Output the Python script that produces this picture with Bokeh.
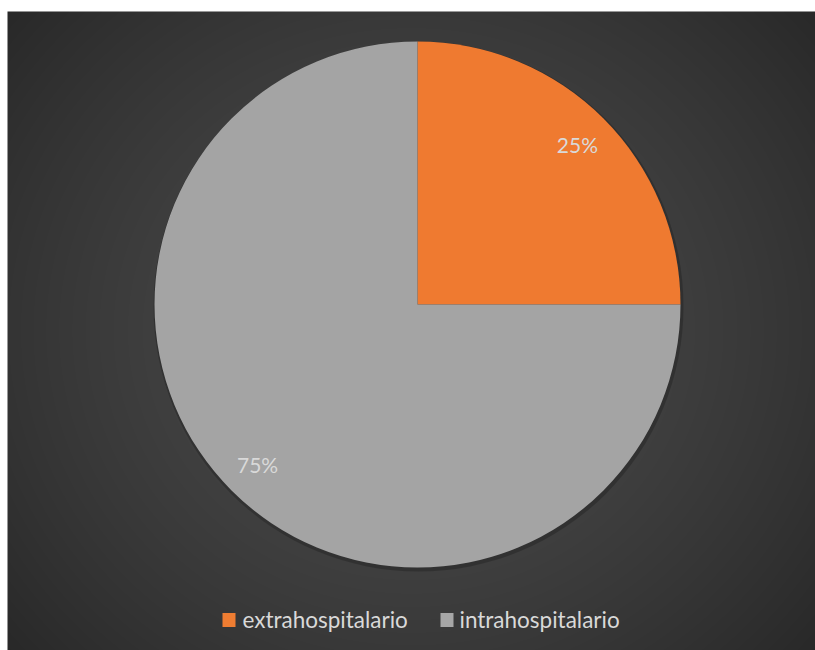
import numpy as np
from bokeh.plotting import figure
from bokeh.models import Range1d, ColumnDataSource
from bokeh.core.properties import value
from bokeh.embed import file_html
from bokeh.resources import INLINE

# ---- data ----
categories = ["extrahospitalario", "intrahospitalario"]
values = [25, 75]
colors = ["#ef7a30", "#a4a4a4"]
legend_colors = ["#ef7d32", "#a6a6a6"]

W, H = 815, 650
FONT = "Lato"

def py(y_px):
    return H - y_px

p = figure(width=W, height=H, x_range=Range1d(0, W), y_range=Range1d(0, H),
           output_backend="svg", toolbar_location=None, min_border=0,
           x_axis_type=None, y_axis_type=None,
           background_fill_color="white", border_fill_color="white",
           outline_line_color=None)
p.grid.visible = False

# ---- chart area background (radial gradient) ----
x0, x1, ytop, ybot = 7, 815, 11, 650
bw, bh = x1 - x0, ybot - ytop
xs = np.arange(bw) + x0 + 0.5
ys_data = np.arange(bh) + 0.5
X, Y = np.meshgrid(xs, ys_data)
cx, cy = 411.0, py(330)
d = np.sqrt(((X - cx) / 560.0) ** 2 + ((Y - cy) / 520.0) ** 2)
d = np.clip(d, 0, 1) ** 1.5
c = (0x4a - (0x4a - 0x26) * d).astype(np.uint8)
img = np.empty((bh, bw), dtype=np.uint32)
view = img.view(dtype=np.uint8).reshape((bh, bw, 4))
view[:, :, 0] = c
view[:, :, 1] = c
view[:, :, 2] = c
view[:, :, 3] = 255
p.image_rgba(image=[img], x=x0, y=py(ybot), dw=bw, dh=bh)

# ---- pie ----
pcx, pcy, R = 417, py(304), 263
vals = np.array(values, dtype=float)
frac = vals / vals.sum()
cum = np.cumsum(frac)
start = np.pi / 2 - 2 * np.pi * (cum - frac)
end = np.pi / 2 - 2 * np.pi * cum
mid = (start + end) / 2

# soft shadow
p.circle(x=[pcx + 1], y=[pcy - 2], radius=R + 2, fill_color="black", fill_alpha=0.2, line_color=None)

src = ColumnDataSource(dict(cat=categories, val=values, start=start, end=end, color=colors,
                            lx=pcx + 0.86 * R * np.cos(mid), ly=pcy + 0.86 * R * np.sin(mid),
                            label=[f"{v:g}%" for v in frac * 100]))
p.wedge(x=pcx, y=pcy, radius=R, start_angle="start", end_angle="end", direction="clock",
        fill_color="color", line_color=None, source=src)

p.text(x="lx", y="ly", text="label", source=src, text_align="center", text_baseline="middle",
       text_font=value(FONT), text_font_size="21px", text_color="#d9d9d9")

# ---- legend ----
sq_x = [228.5, 446.5]
tx = [242, 459]
leg = ColumnDataSource(dict(sx=sq_x, sy=[py(619.5)] * 2, tx=tx, ty=[py(619)] * 2,
                            label=categories, color=legend_colors))
p.rect(x="sx", y="sy", width=13, height=14, fill_color="color", line_color=None, source=leg)
p.text(x="tx", y="ty", text="label", source=leg, text_align="left", text_baseline="middle",
       text_font=value(FONT), text_font_size="22.5px", text_color="#d9d9d9")

open("out.html", "w").write(file_html(p, INLINE))
